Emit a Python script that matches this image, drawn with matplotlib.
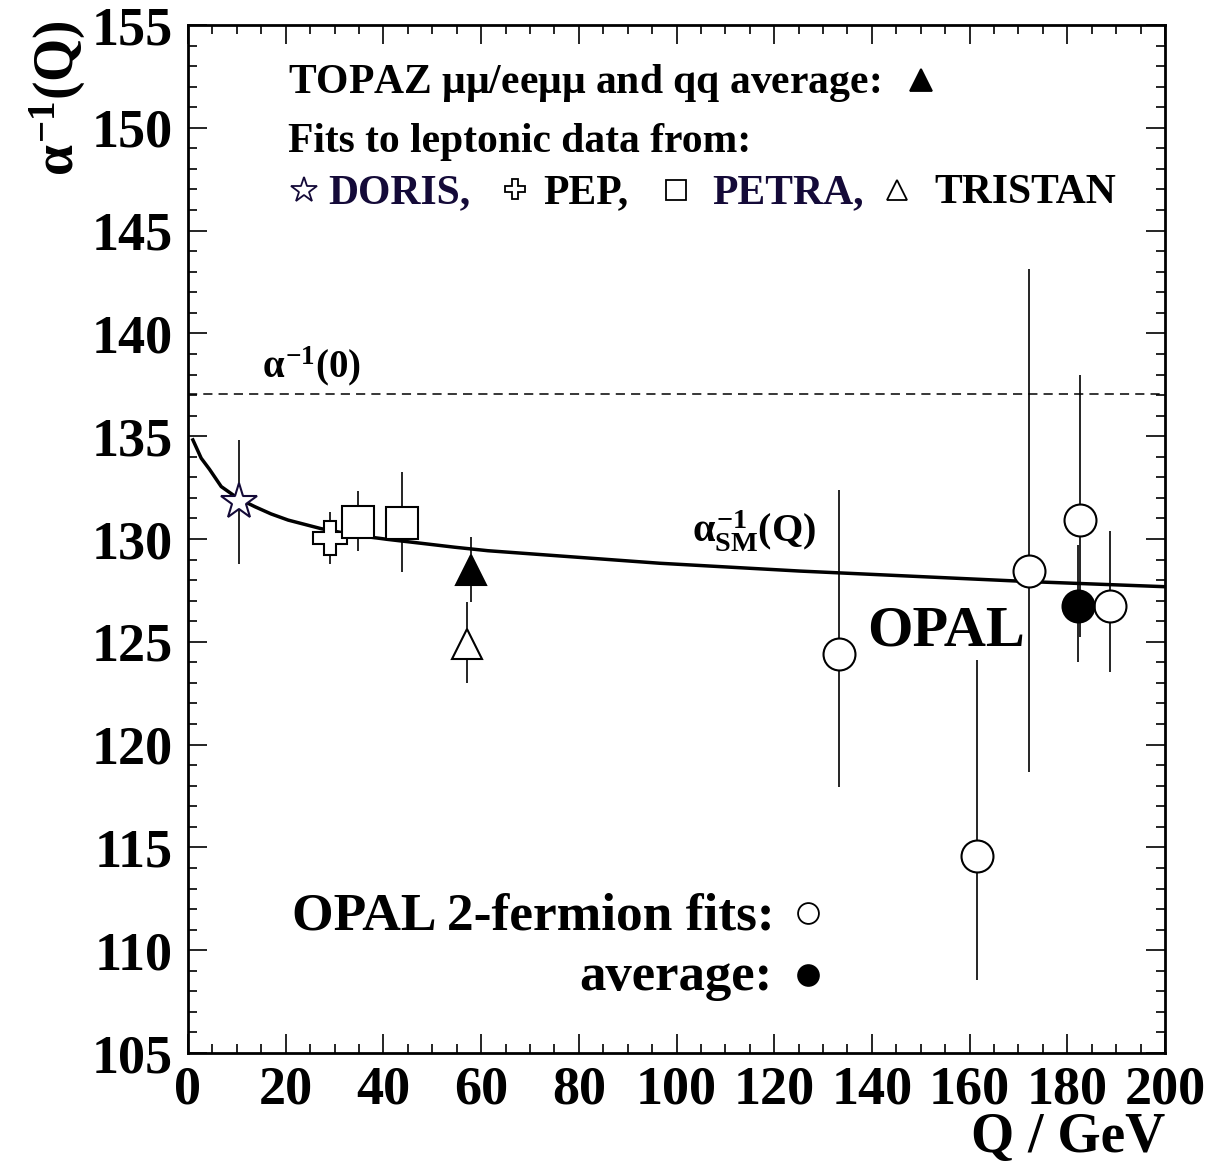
import matplotlib
matplotlib.use("Agg")
import matplotlib.pyplot as plt
from matplotlib.ticker import MultipleLocator

plt.rcParams['font.family'] = ['Liberation Serif', 'DejaVu Serif']
plt.rcParams['font.weight'] = 'bold'
plt.rcParams['mathtext.fontset'] = 'custom'
plt.rcParams['mathtext.rm'] = 'Liberation Serif:bold'
plt.rcParams['mathtext.bf'] = 'Liberation Serif:bold'
plt.rcParams['mathtext.it'] = 'Liberation Serif'

NAVY = '#140a38'

# ---- data ----
q_sm = [1.0, 2.7, 4.4, 6.8, 10.2, 13.7, 17.0, 20.5, 27.3, 34.1, 40.9, 47.8, 54.6, 61.4,
        96.6, 125.3, 172.0, 200.0]
a_sm = [134.82, 133.93, 133.39, 132.55, 131.98, 131.57, 131.22, 130.92, 130.5, 130.19,
        129.98, 129.79, 129.6, 129.43, 128.82, 128.44, 127.93, 127.68]
alpha0 = 137.036

doris_q, doris_a, doris_lo, doris_hi = [10.4], [131.8], [3.0], [3.0]
pep_q, pep_a, pep_lo, pep_hi = [29.1], [130.05], [1.25], [1.25]
petra_q, petra_a = [34.8, 43.8], [130.85, 130.8]
petra_lo, petra_hi = [1.45, 2.4], [1.5, 2.45]
topaz_q, topaz_a, topaz_lo, topaz_hi = [57.9], [128.5], [1.55], [1.58]
tristan_q, tristan_a, tristan_lo, tristan_hi = [57.2], [124.9], [1.92], [2.05]

opal_q = [133.3, 161.5, 172.2, 182.7, 188.7]
opal_a = [124.4, 114.6, 128.45, 130.9, 126.75]
opal_lo = [6.45, 6.05, 9.8, 5.65, 3.2]
opal_hi = [8.0, 9.5, 14.7, 7.1, 3.65]
avg_q, avg_a, avg_lo, avg_hi = [182.1], [126.75], [2.72], [2.96]

x_ticks = [0, 20, 40, 60, 80, 100, 120, 140, 160, 180, 200]
y_ticks = [105, 110, 115, 120, 125, 130, 135, 140, 145, 150, 155]

W, H = 1212, 1167
fig = plt.figure(figsize=(W / 100, H / 100), dpi=100)
ax = fig.add_axes([188 / W, 1 - 1053 / H, (1165 - 188) / W, (1053 - 25) / H])
ax.set_xlim(0, 200)
ax.set_ylim(105, 155)

# reference lines
ax.axhline(alpha0, color='black', lw=1.1, ls=(0, (6, 4)), zorder=1)
ax.plot(q_sm, a_sm, color='black', lw=2.5, zorder=2, solid_joinstyle='round')

eb = dict(fmt='none', ecolor='black', elinewidth=1.2, capsize=0, zorder=3)
mk = dict(ls='none', mew=1.5, zorder=4)

def draw(q, a, lo, hi, marker, ms, face, edge):
    ax.errorbar(q, a, yerr=[lo, hi], **eb)
    ax.plot(q, a, marker=marker, ms=ms, mfc=face, mec=edge, **mk)

draw(doris_q, doris_a, doris_lo, doris_hi, '*', 27, 'white', NAVY)
draw(pep_q, pep_a, pep_lo, pep_hi, 'P', 24, 'white', 'black')
draw(petra_q, petra_a, petra_lo, petra_hi, 's', 23, 'white', 'black')
draw(tristan_q, tristan_a, tristan_lo, tristan_hi, '^', 22, 'white', 'black')
draw(topaz_q, topaz_a, topaz_lo, topaz_hi, '^', 22, 'black', 'black')
draw(opal_q, opal_a, opal_lo, opal_hi, 'o', 23, 'white', 'black')
draw(avg_q, avg_a, avg_lo, avg_hi, 'o', 23, 'black', 'black')

# axes styling
ax.set_xticks(x_ticks)
ax.set_yticks(y_ticks)
ax.xaxis.set_minor_locator(MultipleLocator(5))
ax.yaxis.set_minor_locator(MultipleLocator(1))
ax.tick_params(which='both', direction='in', top=True, right=True, width=1.2,
               labelsize=39)
ax.tick_params(which='major', length=13.5)
ax.tick_params(which='minor', length=6.5)
ax.tick_params(axis='x', pad=9)
ax.tick_params(axis='y', pad=11)
for lab in ax.get_xticklabels() + ax.get_yticklabels():
    lab.set_fontweight('bold')
for s in ax.spines.values():
    s.set_linewidth(2)

def ft(px, py, s, **kw):
    fig.text(px / W, 1 - py / H, s, va='baseline', fontweight='bold', **kw)

ft(1165, 1152, 'Q / GeV', ha='right', fontsize=40)
fig.text(58 / W, 1 - 98 / H, r'$\alpha^{-1}$(Q)', rotation=90, ha='center', va='center',
         fontsize=40, fontweight='bold')

ft(288, 93, r'TOPAZ $\mu\mu$/ee$\mu\mu$ and qq average:', fontsize=30)
ft(288, 152, 'Fits to leptonic data from:', fontsize=30)
ft(328, 203, 'DORIS,', fontsize=30, color=NAVY)
ft(543, 203, 'PEP,', fontsize=30)
ft(712, 203, 'PETRA,', fontsize=30, color=NAVY)
ft(934, 203, 'TRISTAN', fontsize=30)
ft(262, 377, r'$\alpha^{-1}$(0)', fontsize=28)
ft(692, 542, r'$\alpha^{-1}_{\mathrm{SM}}$(Q)', fontsize=29)
ft(867, 645, 'OPAL', fontsize=42)
ft(775, 929, 'OPAL 2-fermion fits:', fontsize=38.5, ha='right')
ft(772, 990, 'average:', fontsize=38, ha='right')

def sym(px, py, marker, ms, face, edge):
    ax.plot([(px - 188) / (1165 - 188)], [(1053 - py) / (1053 - 25)], marker=marker,
            ms=ms, mfc=face, mec=edge, mew=1.3, ls='none', transform=ax.transAxes,
            clip_on=False, zorder=5)

sym(921, 80, '^', 16, 'black', 'black')
sym(304, 190, '*', 19, 'white', NAVY)
sym(515, 189, 'P', 15, 'white', 'black')
sym(676, 190, 's', 14, 'white', 'black')
sym(897, 190, '^', 15, 'white', 'black')
sym(808, 913, 'o', 15, 'white', 'black')
sym(808, 975, 'o', 15, 'black', 'black')

fig.savefig('out.png', dpi=100)
